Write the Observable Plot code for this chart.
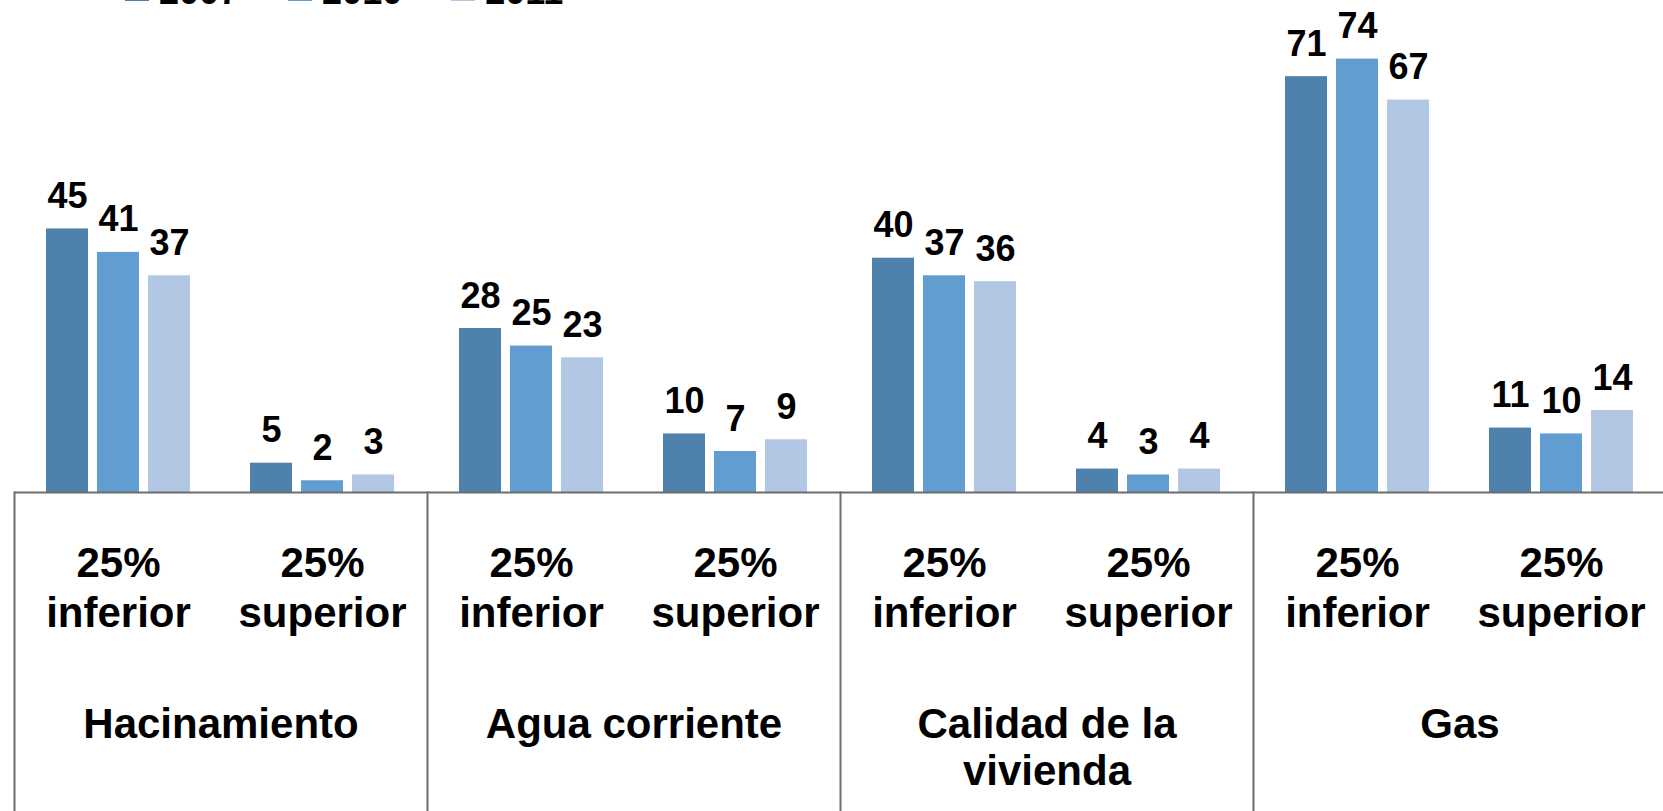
<!DOCTYPE html>
<html>
<head>
<meta charset="utf-8">
<script src="https://cdn.jsdelivr.net/npm/d3@7"></script>
<script src="https://cdn.jsdelivr.net/npm/@observablehq/plot@0.6"></script>
<style>
  html, body { margin: 0; padding: 0; background: #fff; overflow: hidden; }
  #wrap { position: relative; width: 1663px; height: 811px; overflow: hidden; font-family: "Liberation Sans", Arial, sans-serif; }
  #legend { position: absolute; top: -26px; left: 125px; display: flex; align-items: flex-start; font-weight: bold; font-size: 36px; line-height: 36px; color: #000; }
  .item { display: flex; align-items: flex-start; margin-right: 49px; }
  .sw { width: 24px; height: 24px; margin-top: 3px; margin-right: 10px; }
  #chart { position: absolute; top: 0; left: 0; }
</style>
</head>
<body>
<div id="wrap"><div id="legend"></div><div id="chart"></div></div>
<script>
const categories = ["Hacinamiento", "Agua corriente", "Calidad de la vivienda", "Gas"];
const subgroups = ["25% inferior", "25% superior"];
const years = ["2007", "2010", "2011"];
const colors = ["#4f81ad", "#619dd1", "#b1c7e3"];
// values[category][subgroup][year]
const hacinamiento = [[45, 41, 37], [5, 2, 3]];
const aguaCorriente = [[28, 25, 23], [10, 7, 9]];
const calidadVivienda = [[40, 37, 36], [4, 3, 4]];
const gas = [[71, 74, 67], [11, 10, 14]];
const seriesValues = [hacinamiento, aguaCorriente, calidadVivienda, gas];

const rows = [];
categories.forEach((cat, ci) => {
  subgroups.forEach((sub, si) => {
    years.forEach((yr, yi) => {
      rows.push({cat, sub, year: yr, key: sub + "|" + yr, value: seriesValues[ci][si][yi]});
    });
  });
});

// x band domain within each category: three years per subgroup, with one empty slot between subgroups
const gapKey = "·";
const xDomain = [];
subgroups.forEach((sub, si) => {
  if (si > 0) xDomain.push(gapKey);
  years.forEach(yr => xDomain.push(sub + "|" + yr));
});
const midYear = years[Math.floor(years.length / 2)];
const subTicks = subgroups.map(s => s + "|" + midYear);

// legend
const legend = document.getElementById("legend");
years.forEach((yr, i) => {
  const it = document.createElement("div");
  it.className = "item";
  const sw = document.createElement("div");
  sw.className = "sw";
  sw.style.background = colors[i];
  const tx = document.createElement("span");
  tx.textContent = yr;
  it.appendChild(sw); it.appendChild(tx);
  legend.appendChild(it);
});

const W = 1663, H = 811;
const marginTop = 0, marginBottom = 319;
const font = "Liberation Sans, Arial, sans-serif";

const chart = Plot.plot({
  width: W,
  height: H,
  marginTop,
  marginBottom,
  marginLeft: 13,
  marginRight: -4,
  style: {fontFamily: font, background: "transparent", overflow: "visible"},
  fx: {domain: categories, padding: 0, axis: null},
  x: {domain: xDomain, paddingInner: 0.167, paddingOuter: 0.59, axis: null},
  y: {domain: [0, 84], axis: null},
  color: {domain: years, range: colors},
  marks: [
    Plot.barY(rows, {fx: "cat", x: "key", y: "value", fill: "year"}),
    Plot.ruleY([0], {stroke: "#6d6d6d", strokeWidth: 2}),
    Plot.frame({anchor: "left", stroke: "#6d6d6d", strokeWidth: 2, insetTop: H - marginTop - marginBottom, insetBottom: -marginBottom}),
    Plot.text(rows, {fx: "cat", x: "key", y: "value", text: d => String(d.value), lineAnchor: "bottom", dy: -21, fontSize: 36, fontWeight: "bold", fill: "#000"}),
    Plot.axisX({ticks: subTicks, tickFormat: d => d.split("|")[0].replace(" ", "\n"), tickSize: 0, tickPadding: 48, fontSize: 42, fontWeight: "bold", lineHeight: 1.21, fill: "#000", label: null}),
    Plot.axisFx({anchor: "bottom", tickSize: 0, tickPadding: 212, fontSize: 42, fontWeight: "bold", lineWidth: 8, lineHeight: 1.12, fill: "#000", label: null})
  ]
});
document.getElementById("chart").appendChild(chart);
</script>
</body>
</html>
